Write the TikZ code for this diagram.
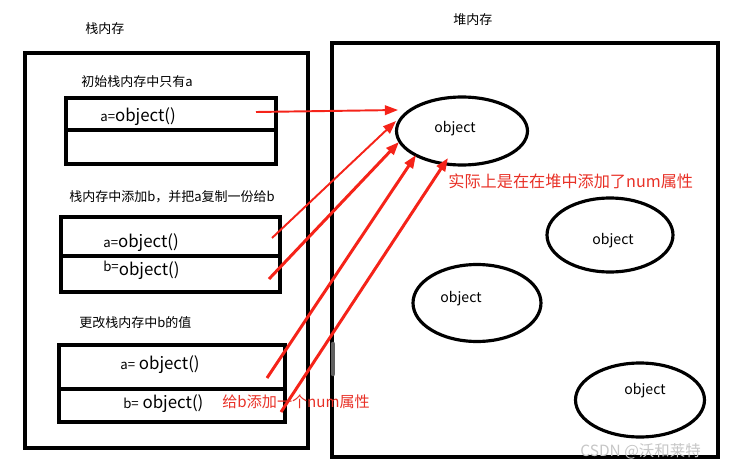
\documentclass[tikz,border=0pt]{standalone}
\usepackage{fontspec}
\setmainfont{Noto Sans CJK SC}
\usetikzlibrary{shapes.geometric,arrows.meta}

\definecolor{arrowred}{RGB}{245,35,25}
\definecolor{notered}{RGB}{232,48,38}
\newcommand{\varname}[1]{{\fontsize{7.5}{9}\selectfont #1}}

\tikzset{
  memframe/.style={draw, line width=2.3pt},
  cellbox/.style={draw, line width=2.2pt},
  caption/.style={anchor=west, inner sep=0pt, font=\fontsize{7.4}{9}\selectfont},
  celltext/.style={anchor=west, inner sep=0pt, font=\fontsize{9.6}{11}\selectfont},
  objnode/.style={draw, ellipse, line width=1.8pt, inner sep=0pt},
  objtext/.style={font=\fontsize{8}{10}\selectfont},
  rednote/.style={anchor=west, inner sep=0pt, text=notered},
  ref/.style={draw=arrowred, line width=1.1pt, -{Triangle[length=7.5pt,width=5.5pt]}},
  refthick/.style={ref, line width=1.7pt}
}

\begin{document}
\begin{tikzpicture}[x=0.02cm, y=-0.02cm]
\useasboundingbox (0,0) rectangle (731,470);

% Titles
\node[caption] (stacktitle) at (85,29) {栈内存};
\node[caption] (heaptitle) at (453,20) {堆内存};

% Memory frames
\draw[memframe] (25,53) rectangle (308,448);
\draw[memframe] (332,43) rectangle (718,457);
\draw[gray!75!black, line width=2.6pt, line cap=round] (333,344) -- (333,374);

% Stack: initial state
\node[caption] (step1) at (81,82) {初始栈内存中只有a};
\draw[cellbox] (66,98) rectangle (276,164);
\draw[cellbox] (66,130) -- (276,130);
\node[celltext] (a1) at (100,117) {\varname{a=}object()};

% Stack: b added
\node[caption] (step2) at (69,197) {栈内存中添加b，并把a复制一份给b};
\draw[cellbox] (61,217) rectangle (280,292);
\draw[cellbox] (61,256) -- (280,256);
\node[celltext] (a2) at (103,243) {\varname{a=}object()};
\node[celltext] (b2) at (103,270) {\raisebox{2.5pt}{\varname{b=}}object()};

% Stack: b changed
\node[caption] (step3) at (79,323) {更改栈内存中b的值};
\draw[cellbox] (59,345) rectangle (285,422);
\draw[cellbox] (59,389) -- (285,389);
\node[celltext] (a3) at (120,365) {\varname{a=} object()};
\node[celltext] (b3) at (123,404) {\varname{b=} object()};

% Heap objects
\node[objnode, minimum width=2.62cm, minimum height=1.36cm,
  label={[objtext, xshift=-0.14cm, yshift=0.04cm]center:object}] (obj1) at (462,131) {};
\node[objnode, minimum width=2.52cm, minimum height=1.48cm,
  label={[objtext, xshift=0.06cm, yshift=-0.11cm]center:object}] (obj2) at (610,235) {};
\node[objnode, minimum width=2.56cm, minimum height=1.54cm,
  label={[objtext, xshift=-0.32cm, yshift=0.08cm]center:object}] (obj3) at (477,303) {};
\node[objnode, minimum width=2.58cm, minimum height=1.48cm,
  label={[objtext, xshift=0.1cm, yshift=0.18cm]center:object}] (obj4) at (640,400) {};

% References
\coordinate (t1) at (256,112); \coordinate (h1) at (398,110);
\coordinate (t2) at (272,238); \coordinate (h2) at (396,121);
\coordinate (t3) at (269,279); \coordinate (h3) at (399,142);
\coordinate (t4) at (267,378); \coordinate (h4) at (416,155);
\coordinate (t5) at (281,412); \coordinate (h5) at (448,158);
\draw[ref] (t1) -- (h1);
\draw[ref] (t2) -- (h2);
\draw[refthick] (t3) -- (h3);
\draw[refthick] (t4) -- (h4);
\draw[refthick] (t5) -- (h5);

% Notes
\node[rednote, font=\fontsize{9.2}{11}\selectfont] (heapnote) at (448,181) {实际上是在在堆中添加了num属性};
\node[rednote, font=\fontsize{8.6}{10}\selectfont] (stacknote) at (222,402) {给b添加一个num属性};

% Watermark
\node[anchor=west, inner sep=0pt, text=gray!45, font=\fontsize{8.8}{10}\selectfont] (mark) at (580,451) {CSDN @沃和莱特};

\end{tikzpicture}
\end{document}
